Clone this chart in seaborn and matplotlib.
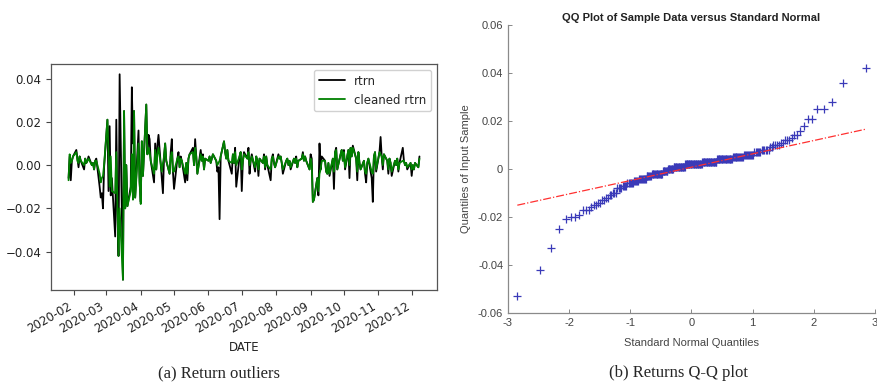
"""Return outliers time series and returns Q-Q plot, side by side."""

from statistics import NormalDist

import matplotlib

matplotlib.use("Agg")

import matplotlib.dates as mdates
import matplotlib.pyplot as plt
import numpy as np
import pandas as pd
import seaborn as sns

# business days shown on the left panel
DATES = pd.bdate_range("2020-01-27", "2020-12-08")

RTRN = [
    # Jan
    -0.006, 0.004, -0.007, 0.002, 0.004,
    # Feb
    0.007, 0.003, -0.001, 0.004, 0.002, -0.002, 0.003, 0.001, 0.002, 0.004,
    0.000, 0.001, -0.002, 0.002, 0.003, -0.010, -0.015, -0.013, -0.020, -0.001,
    # Mar
    0.021, -0.012, 0.018, -0.014, -0.006, -0.033, 0.021, -0.021, -0.042, 0.042,
    -0.053, 0.025, -0.020, 0.000, -0.019, -0.010, 0.036, 0.010, 0.025, -0.015,
    0.016, -0.008,
    # Apr
    -0.017, 0.011, -0.005, 0.028, 0.005, 0.014, 0.012, 0.002, -0.008, 0.010,
    -0.002, 0.009, 0.014, -0.006, -0.013, 0.004, 0.010, 0.002, -0.004, 0.006,
    0.012, -0.003,
    # May
    -0.011, 0.003, 0.006, -0.001, 0.004, 0.002, -0.008, 0.001, -0.007, 0.003,
    0.005, 0.008, 0.000, 0.012, 0.004, -0.004, 0.007, 0.002, 0.005, -0.002,
    0.003,
    # Jun
    0.002, 0.004, 0.001, 0.003, 0.005, 0.002, -0.003, -0.001, -0.025, 0.004,
    0.011, 0.006, 0.003, 0.007, 0.002, -0.004, 0.005, 0.001, 0.008, -0.010,
    0.004, 0.006,
    # Jul
    -0.012, 0.002, 0.006, 0.003, 0.008, -0.004, 0.002, 0.005, -0.003, 0.004,
    0.002, -0.005, 0.003, 0.001, 0.005, -0.002, 0.004, 0.000, -0.007, 0.003,
    0.005, 0.001, -0.001,
    # Aug
    0.005, 0.003, 0.004, 0.001, -0.004, 0.002, 0.003, 0.000, 0.002, -0.002,
    0.003, 0.001, 0.004, -0.001, 0.002, 0.003, 0.006, 0.002, 0.004, 0.002,
    -0.002,
    # Sep
    0.005, 0.003, -0.017, -0.016, -0.006, -0.014, 0.010, -0.002, 0.004, 0.002,
    -0.003, -0.004, 0.001, -0.005, 0.003, -0.011, 0.006, 0.008, -0.002, 0.005,
    0.007, 0.002,
    # Oct
    0.007, -0.002, 0.007, -0.006, 0.008, 0.004, 0.009, 0.003, -0.007, 0.006,
    0.001, -0.002, 0.002, -0.004, -0.008, 0.001, 0.003, -0.006, -0.017, 0.004,
    0.006, -0.003,
    # Nov
    0.006, 0.013, 0.004, -0.002, 0.005, 0.002, -0.004, 0.003, 0.001, -0.005,
    0.002, 0.000, 0.003, -0.003, 0.001, 0.008, 0.002, 0.000, 0.001, -0.002,
    0.001,
    # Dec
    -0.005, 0.000, -0.002, 0.001, -0.001, 0.004,
]

CLEANED_RTRN = [
    # Jan
    -0.007, 0.005, 0.001, 0.002, 0.004,
    # Feb
    0.006, 0.002, 0.001, 0.004, 0.002, 0.000, 0.003, 0.001, 0.002, 0.003,
    0.000, 0.001, -0.002, 0.002, 0.002, -0.004, -0.008, -0.006, -0.005, 0.000,
    # Mar
    0.021, 0.005, -0.010, 0.004, -0.012, -0.013, 0.006, -0.018, -0.042, -0.020,
    -0.053, 0.025, -0.020, 0.000, -0.019, -0.012, 0.005, -0.016, 0.025, -0.015,
    0.010, -0.008,
    # Apr
    -0.018, 0.011, -0.005, 0.028, 0.005, 0.008, 0.006, 0.002, -0.004, 0.007,
    -0.002, 0.005, 0.008, -0.003, 0.001, 0.004, 0.010, 0.002, -0.004, 0.004,
    0.006, -0.003,
    # May
    -0.003, 0.003, 0.004, -0.001, 0.003, 0.002, -0.004, 0.001, -0.004, 0.003,
    0.005, 0.006, 0.000, 0.008, 0.004, -0.004, 0.005, 0.002, 0.004, -0.002,
    0.003,
    # Jun
    0.002, 0.004, 0.001, 0.003, 0.005, 0.002, 0.000, 0.001, 0.002, 0.004,
    0.011, 0.006, 0.003, 0.007, 0.002, 0.001, 0.005, 0.001, 0.006, 0.000,
    0.004, 0.006,
    # Jul
    -0.002, 0.002, 0.005, 0.003, 0.006, 0.000, 0.002, 0.004, -0.001, 0.004,
    0.002, -0.002, 0.003, 0.001, 0.004, -0.001, 0.004, 0.000, -0.002, 0.003,
    0.004, 0.001, -0.001,
    # Aug
    0.004, 0.003, 0.004, 0.001, -0.002, 0.002, 0.003, 0.000, 0.002, -0.001,
    0.003, 0.001, 0.003, -0.001, 0.002, 0.003, 0.005, 0.002, 0.004, 0.002,
    -0.002,
    # Sep
    0.003, 0.000, -0.017, -0.016, -0.006, -0.012, -0.004, -0.002, 0.002, 0.002,
    -0.003, -0.004, 0.001, -0.004, 0.003, -0.003, 0.006, 0.007, -0.002, 0.005,
    0.007, 0.002,
    # Oct
    0.006, -0.001, 0.007, 0.000, 0.008, 0.004, 0.008, 0.003, -0.003, 0.006,
    0.001, -0.002, 0.002, -0.003, -0.004, 0.001, 0.003, -0.003, -0.004, 0.004,
    0.006, -0.002,
    # Nov
    0.006, 0.005, 0.004, 0.000, 0.005, 0.002, -0.002, 0.003, 0.001, -0.003,
    0.002, 0.000, 0.003, -0.002, 0.001, 0.002, 0.002, 0.000, 0.001, -0.001,
    0.001,
    # Dec
    -0.002, 0.000, -0.002, 0.001, -0.001, 0.003,
]

QQ_XTICKS = [-3, -2, -1, 0, 1, 2, 3]
QQ_XTICKLABELS = ["-3", "-2", "-1", "0", "1", "2", "3"]
QQ_YTICKS = [-0.06, -0.04, -0.02, 0, 0.02, 0.04, 0.06]
QQ_YTICKLABELS = ["-0.06", "-0.04", "-0.02", "0", "0.02", "0.04", "0.06"]

returns = pd.DataFrame({"DATE": DATES, "rtrn": RTRN, "cleaned": CLEANED_RTRN})

# Q-Q data: sorted sample against standard normal plotting positions
sample = np.sort(np.asarray(RTRN))
n = len(sample)
theory = np.array([NormalDist().inv_cdf((i - 0.5) / n) for i in range(1, n + 1)])
qq = pd.DataFrame({"theory": theory, "sample": sample})

# reference line through first and third quartiles
q1x, q3x = NormalDist().inv_cdf(0.25), NormalDist().inv_cdf(0.75)
q1y, q3y = np.percentile(sample, [25, 75])
slope = (q3y - q1y) / (q3x - q1x)
line_x = np.array([theory[0], theory[-1]])
ref = pd.DataFrame({"x": line_x, "y": q1y + slope * (line_x - q1x)})

sns.set_theme(style="white")
plt.rcParams["font.family"] = ["DejaVu Sans"]

fig = plt.figure(figsize=(8.78, 3.83), dpi=100)

# (a) return outliers
ax1 = fig.add_axes([51 / 878, 1 - 290 / 383, 386 / 878, 226 / 383])
sns.lineplot(data=returns, x="DATE", y="rtrn", color="black", linewidth=1.3,
             label="rtrn", ax=ax1)
sns.lineplot(data=returns, x="DATE", y="cleaned", color="green", linewidth=1.3,
             label="cleaned rtrn", ax=ax1)
ax1.set_ylabel("")
ax1.set_xlabel("DATE", fontsize=8.5, color="#222222")
ax1.xaxis.set_major_locator(mdates.MonthLocator())
ax1.xaxis.set_major_formatter(mdates.DateFormatter("%Y-%m"))
ax1.set_yticks([-0.04, -0.02, 0.0, 0.02, 0.04])
ax1.set_yticklabels(["\u22120.04", "\u22120.02", "0.00", "0.02", "0.04"])
ax1.tick_params(axis="both", labelsize=8.5, length=3.5, width=0.8, color="#444444",
                labelcolor="#222222", bottom=True, left=True)
for label in ax1.get_xticklabels():
    label.set_rotation(30)
    label.set_ha("right")
for spine in ax1.spines.values():
    spine.set_color("#555555")
    spine.set_linewidth(0.9)
ax1.legend(loc="upper right", fontsize=8.5, frameon=True, framealpha=0.9,
           edgecolor="#cccccc", handlelength=2.2)

# (b) Q-Q plot, MATLAB look
ax2 = fig.add_axes([508 / 878, 1 - 313 / 383, 367 / 878, 288 / 383])
sns.lineplot(data=ref, x="x", y="y", color="#ff3030", linewidth=0.9,
             linestyle="-.", ax=ax2)
sns.scatterplot(data=qq, x="theory", y="sample", marker="+", s=36,
                color="#3a3ab8", linewidth=0.9, ax=ax2)
ax2.set_xlim(-3, 3)
ax2.set_ylim(-0.06, 0.06)
ax2.set_xticks(QQ_XTICKS)
ax2.set_xticklabels(QQ_XTICKLABELS)
ax2.set_yticks(QQ_YTICKS)
ax2.set_yticklabels(QQ_YTICKLABELS)
mfont = ["Liberation Sans", "DejaVu Sans"]
for label in ax2.get_xticklabels() + ax2.get_yticklabels():
    label.set_family(mfont)
ax2.tick_params(axis="both", direction="in", labelsize=8, length=3, width=0.7,
                color="#888888", labelcolor="#444444", bottom=True, left=True)
ax2.set_xlabel("Standard Normal Quantiles", fontsize=8, color="#444444",
               family=mfont, labelpad=7)
ax2.set_ylabel("Quantiles of Input Sample", fontsize=8, color="#444444",
               family=mfont, labelpad=5)
ax2.set_title("QQ Plot of Sample Data versus Standard Normal", fontsize=8,
              fontweight="bold", family=mfont, color="#222222", pad=3)
for side in ["top", "right"]:
    ax2.spines[side].set_visible(False)
for side in ["left", "bottom"]:
    ax2.spines[side].set_color("#8a8a8a")
    ax2.spines[side].set_linewidth(0.9)

serif = ["Liberation Serif", "DejaVu Serif"]
fig.text(219 / 878, 1 - 373 / 383, "(a) Return outliers", ha="center",
         va="center", fontsize=12, family=serif)
fig.text(679 / 878, 1 - 373 / 383, "(b) Returns Q-Q plot", ha="center",
         va="center", fontsize=12, family=serif)

fig.savefig("out.png", dpi=100)
plt.close(fig)
